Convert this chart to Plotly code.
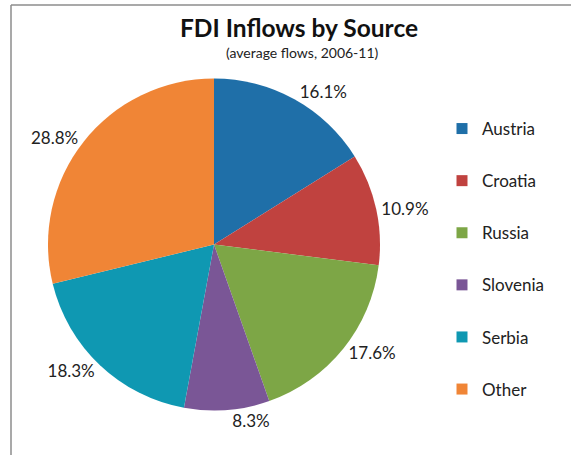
import plotly.graph_objects as go

# FDI inflows by source country, average flows 2006-11 (% of total)
sources = ["Austria", "Croatia", "Russia", "Slovenia", "Serbia", "Other"]
shares = [16.1, 10.9, 17.6, 8.3, 18.3, 28.8]
colors = ["#1F6FA8", "#C0423F", "#7DA646", "#7A5696", "#0F98B2", "#F08536"]

W, H = 571, 455
FONT = "Lato, Open Sans, sans-serif"

fig = go.Figure()

fig.add_trace(go.Pie(
    labels=sources,
    values=shares,
    sort=False,
    direction="clockwise",
    rotation=0,
    marker=dict(colors=colors, line=dict(width=0)),
    texttemplate="%{value:.1f}%",
    textposition="outside",
    outsidetextfont=dict(family=FONT, size=17, color="#222222"),
    hoverinfo="label+percent",
    showlegend=False,
    domain=dict(x=[48 / W, 380 / W], y=[44.5 / H, 376.5 / H]),
))

# Legend entries: one group per source so the entries can be spread out
for name, col in zip(sources, colors):
    fig.add_trace(go.Scatter(
        x=[None], y=[None], mode="markers", name=name,
        legendgroup=name,
        marker=dict(symbol="square", size=11, color=col),
        hoverinfo="skip",
    ))

fig.update_layout(
    width=W, height=H,
    margin=dict(l=0, r=0, t=0, b=0),
    paper_bgcolor="white",
    plot_bgcolor="white",
    xaxis=dict(visible=False),
    yaxis=dict(visible=False),
    legend=dict(
        x=442 / W, y=1 - 259 / H, xanchor="left", yanchor="middle",
        font=dict(family=FONT, size=17, color="#222222"),
        tracegroupgap=27,
        itemwidth=30,
        bgcolor="rgba(0,0,0,0)",
    ),
    annotations=[
        dict(text="<b>FDI Inflows by Source</b>", x=299 / W, y=1 - 27 / H,
             xref="paper", yref="paper", showarrow=False,
             xanchor="center", yanchor="middle",
             font=dict(family=FONT, size=24.5, color="#111111")),
        dict(text="(average flows, 2006-11)", x=302 / W, y=1 - 52 / H,
             xref="paper", yref="paper", showarrow=False,
             xanchor="center", yanchor="middle",
             font=dict(family=FONT, size=14, color="#222222")),
    ],
    shapes=[
        dict(type="line", xref="paper", yref="paper",
             x0=11 / W, x1=1, y0=1 - 5 / H, y1=1 - 5 / H,
             line=dict(color="#8C8C8C", width=1.5)),
        dict(type="line", xref="paper", yref="paper",
             x0=11 / W, x1=11 / W, y0=1 - 5 / H, y1=0,
             line=dict(color="#8C8C8C", width=1.5)),
    ],
)

fig.write_html("out.html")
